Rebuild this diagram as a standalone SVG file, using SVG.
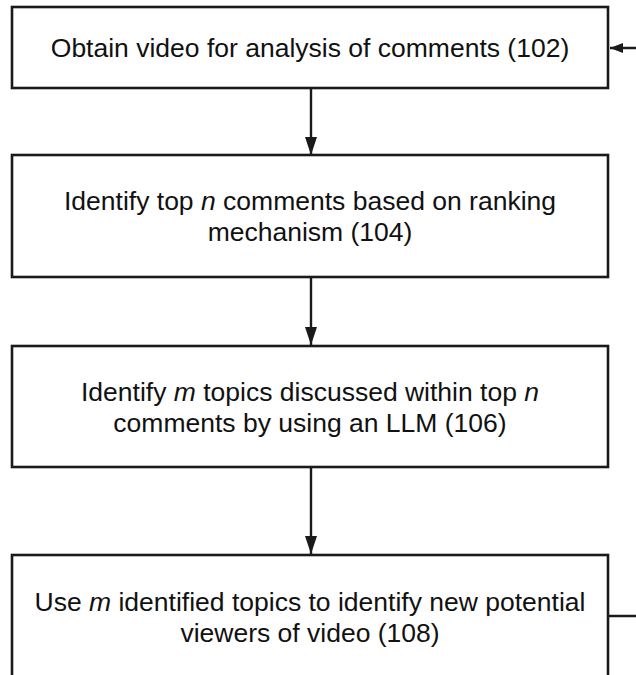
<svg xmlns="http://www.w3.org/2000/svg" width="636" height="675" viewBox="0 0 636 675">
<style>
.box{fill:#fff;stroke:#1a1a1a;stroke-width:2.6}
.lbl{font-family:"Liberation Sans",Arial,sans-serif;font-size:26.5px;fill:#111;text-anchor:middle}
.conn{fill:none;stroke:#1a1a1a;stroke-width:2.4}
</style>
<defs>
<marker id="ahv" markerUnits="userSpaceOnUse" markerWidth="18" markerHeight="12" refX="18" refY="6" orient="auto">
<path d="M0,0 L18,6 L0,12 Z" fill="#1a1a1a"/>
</marker>
<marker id="ahh" markerUnits="userSpaceOnUse" markerWidth="13" markerHeight="10" refX="13" refY="5" orient="auto">
<path d="M0,0 L13,5 L0,10 Z" fill="#1a1a1a"/>
</marker>
</defs>
<rect width="636" height="675" fill="#fff"/>
<g id="connectors">
<line class="conn" x1="311" y1="88" x2="311" y2="155" marker-end="url(#ahv)"/>
<line class="conn" x1="311" y1="277" x2="311" y2="345" marker-end="url(#ahv)"/>
<line class="conn" x1="311" y1="467" x2="311" y2="554" marker-end="url(#ahv)"/>
<path class="conn" d="M608,616 H650 V48 H610" marker-end="url(#ahh)"/>
</g>
<g id="node102">
<rect class="box" x="12" y="7" width="596" height="81"/>
<text class="lbl" x="310" y="57">Obtain video for analysis of comments (102)</text>
</g>
<g id="node104">
<rect class="box" x="12" y="155" width="596" height="122"/>
<text class="lbl" x="310" y="210">Identify top <tspan font-style="italic">n</tspan> comments based on ranking</text>
<text class="lbl" x="310" y="241">mechanism (104)</text>
</g>
<g id="node106">
<rect class="box" x="12" y="346" width="596" height="121"/>
<text class="lbl" x="310" y="401">Identify <tspan font-style="italic">m</tspan> topics discussed within top <tspan font-style="italic">n</tspan></text>
<text class="lbl" x="310" y="432">comments by using an LLM (106)</text>
</g>
<g id="node108">
<rect class="box" x="12" y="555" width="596" height="124"/>
<text class="lbl" x="310" y="611">Use <tspan font-style="italic">m</tspan> identified topics to identify new potential</text>
<text class="lbl" x="310" y="642">viewers of video (108)</text>
</g>
</svg>
